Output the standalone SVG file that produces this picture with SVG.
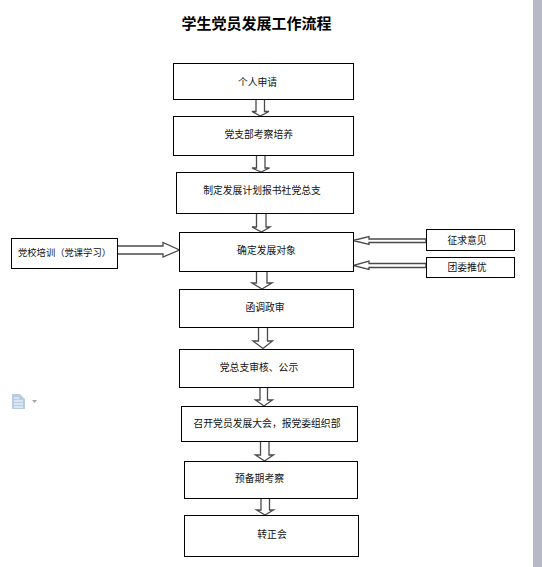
<svg xmlns="http://www.w3.org/2000/svg" width="542" height="567" viewBox="0 0 542 567">
<style>
.box{fill:#fff;stroke:#000;stroke-width:1}
.arr{fill:#fff;stroke:#4a4a4a;stroke-width:1.3}
text{font-family:"Noto Sans CJK SC","Liberation Sans",sans-serif;font-size:9.8px;fill:#111;text-anchor:middle}
.title{font-size:15px;font-weight:700;fill:#000}
</style>
<rect width="542" height="567" fill="#fff"/>
<rect x="533" y="0" width="9" height="567" fill="#b7bac6"/>
<text class="title" x="256.5" y="28.5">学生党员发展工作流程</text>
<g id="connectors">
<polygon class="arr" points="256,99 264.5,99 264.5,111.5 269,111.5 260.2,116 252,111.5 256,111.5"/>
<polygon class="arr" points="256.5,155 265,155 265,168 269.5,168 261,172 252,168 256.5,168"/>
<polygon class="arr" points="256.5,213 266,213 266,227 270,227 261.5,232 252,227 256.5,227"/>
<polygon class="arr" points="256.5,271 267,271 267,283 272,283 262,289 252,283 256.5,283"/>
<polygon class="arr" points="258.5,327 267.5,327 267.5,341 272.5,341 263,348.5 253,341 258.5,341"/>
<polygon class="arr" points="260,387 267.5,387 267.5,400 272.5,400 264,406 255.5,400 260,400"/>
<polygon class="arr" points="260.5,441 269,441 269,455 273.5,455 264.5,461 255.5,455 260.5,455"/>
<polygon class="arr" points="261,497 269.5,497 269.5,510 273.5,510 265,515 256.5,510 261,510"/>
<polygon class="arr" points="117,246 163,246 163,242.5 179.5,250 163,257 163,254 117,254"/>
<polygon class="arr" points="426,239 369,239 369,236.5 353,240.5 369,244.5 369,242.5 426,242.5"/>
<polygon class="arr" points="426,263.5 369,263.5 369,261 353,265.5 369,269.5 369,267.5 426,267.5"/>
</g>
<g id="n1"><rect class="box" x="173.5" y="63.5" width="180" height="36"/><text x="257.5" y="85.5">个人申请</text></g>
<g id="n2"><rect class="box" x="173.5" y="116.5" width="180" height="39"/><text x="258.7" y="137.5">党支部考察培养</text></g>
<g id="n3"><rect class="box" x="176.5" y="172.5" width="177" height="41"/><text x="262" y="193.5">制定发展计划报书社党总支</text></g>
<g id="n4"><rect class="box" x="179.5" y="232.5" width="174" height="39"/><text x="266.5" y="254">确定发展对象</text></g>
<g id="n5"><rect class="box" x="179.5" y="289.5" width="174" height="38"/><text x="265" y="310.5">函调政审</text></g>
<g id="n6"><rect class="box" x="179.5" y="349.5" width="174" height="38"/><text x="259" y="370.5">党总支审核、公示</text></g>
<g id="n7"><rect class="box" x="181.5" y="406.5" width="176" height="35"/><text x="267" y="426.5">召开党员发展大会，报党委组织部</text></g>
<g id="n8"><rect class="box" x="184.5" y="461.5" width="173" height="37"/><text x="259.5" y="481.5">预备期考察</text></g>
<g id="n9"><rect class="box" x="184.5" y="515.5" width="174" height="41"/><text x="272" y="537.5">转正会</text></g>
<g id="n10"><rect class="box" x="11.5" y="238.5" width="106" height="30"/><text x="64.5" y="255.5" style="font-size:9.3px">党校培训（党课学习）</text></g>
<g id="n11"><rect class="box" x="426.5" y="229.5" width="88" height="21"/><text x="467" y="243.5">征求意见</text></g>
<g id="n12"><rect class="box" x="426.5" y="257.5" width="88" height="20"/><text x="467" y="271">团委推优</text></g>
<g id="icon">
<polygon points="12,394 20,394 25,399 25,409 12,409" fill="#b8cce4"/>
<path d="M14 398h5M14 401h9M14 404h9M14 407h9" stroke="#fff" stroke-width="1" fill="none"/>
<polygon points="32,400 37,400 34.5,403" fill="#a6a6a6"/>
</g>
</svg>
